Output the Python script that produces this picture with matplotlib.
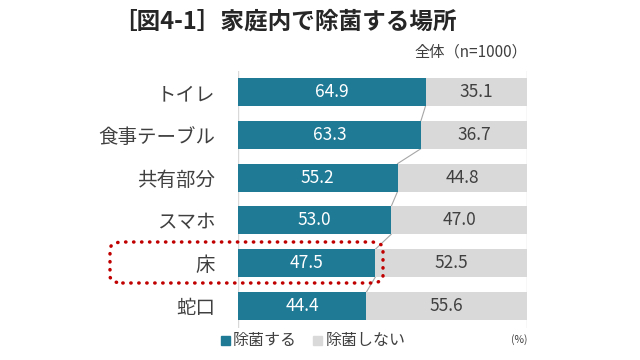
import matplotlib
matplotlib.use("Agg")
import matplotlib.pyplot as plt
from matplotlib.patches import FancyBboxPatch

plt.rcParams['font.family'] = ['Noto Sans CJK JP', 'DejaVu Sans']

categories = ["トイレ", "食事テーブル", "共有部分", "スマホ", "床", "蛇口"]
yes_vals = [64.9, 63.3, 55.2, 53.0, 47.5, 44.4]
no_vals = [35.1, 36.7, 44.8, 47.0, 52.5, 55.6]
series_names = ["除菌する", "除菌しない"]
title = "［図4-1］家庭内で除菌する場所"
subtitle = "全体（n=1000）"
unit = "(%)"

blue = "#1F7A96"
gray = "#D9D9D9"
txt = "#404040"

fig = plt.figure(figsize=(6.4, 3.6), dpi=100)
ax = fig.add_axes([238/640, 1-327.5/360, (527-238)/640, 257/360])

y = list(range(len(categories)))
h = 0.65
ax.barh(y, yes_vals, height=h, color=blue, zorder=2)
ax.barh(y, no_vals, left=yes_vals, height=h, color=gray, zorder=2)
for yi, a, b in zip(y, yes_vals, no_vals):
    ax.text(a/2, yi, f"{a:.1f}", ha='center', va='center', color='white', fontsize=12.5, zorder=3)
    ax.text(a + b/2, yi, f"{b:.1f}", ha='center', va='center', color=txt, fontsize=12.5, zorder=3)
for i in range(len(categories)-1):
    ax.plot([yes_vals[i], yes_vals[i+1]], [y[i]+h/2, y[i+1]-h/2], color="#A6A6A6", lw=0.8, zorder=1)
ax.axvline(0, color=gray, lw=1, zorder=1)
ax.axvline(100, color=gray, lw=1, zorder=1)

ax.set_xlim(0, 100)
ax.set_ylim(len(categories)-0.5, -0.5)
ax.set_yticks(y)
ax.set_yticklabels(categories, fontsize=14, color=txt)
ax.tick_params(axis='y', length=0, pad=16.5)
ax.set_xticks([])
for s in ax.spines.values():
    s.set_visible(False)

fig.text(113/640, 1-22/360, title, fontsize=17, fontweight='bold', color='#262626', va='center', ha='left')
fig.text(527/640, 1-52/360, subtitle, fontsize=11, color=txt, va='center', ha='right')

# legend
fig.patches.append(plt.Rectangle((221/640, 1-345/360), 9/640, 9/360, color=blue, transform=fig.transFigure))
fig.text(233/640, 1-340/360, series_names[0], fontsize=11.5, color=txt, va='center')
fig.patches.append(plt.Rectangle((313/640, 1-345/360), 9/640, 9/360, color=gray, transform=fig.transFigure))
fig.text(326/640, 1-340/360, series_names[1], fontsize=11.5, color=txt, va='center')
fig.text(527/640, 1-340/360, unit, fontsize=7.5, color=txt, va='center', ha='right')

# dotted highlight
box = FancyBboxPatch((110/640, 1-283/360), (383-110)/640, (283-242)/360,
                     boxstyle="round,pad=0,rounding_size=0.02", transform=fig.transFigure,
                     fill=False, edgecolor="#C00000", lw=2.5, linestyle=(0, (0.1, 2.2)),
                     capstyle='round', zorder=5)
box.set_joinstyle('round')
fig.patches.append(box)

fig.savefig("out.png", dpi=100)
